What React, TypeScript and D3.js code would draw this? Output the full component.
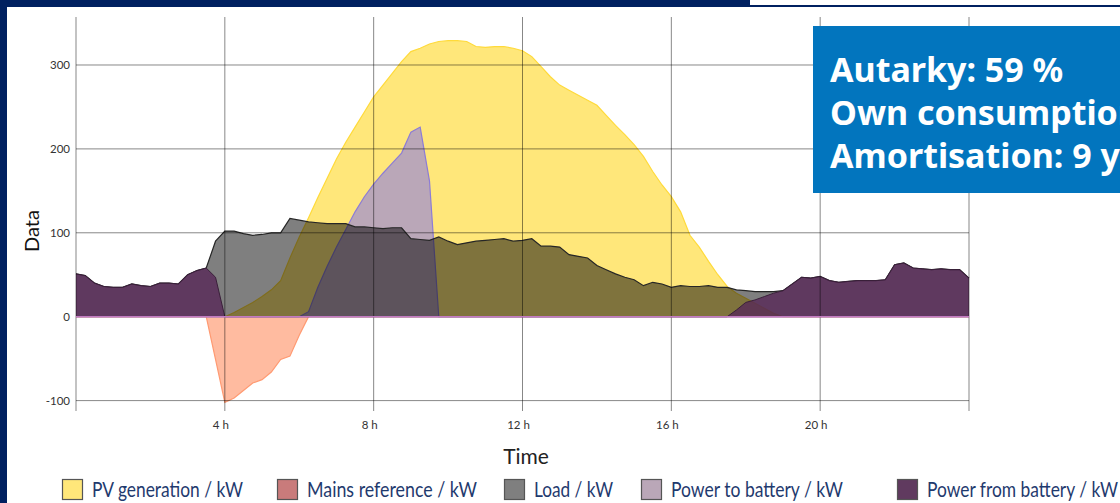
import React from "react";
import * as d3 from "d3";

const hours: number[] = d3.range(0, 97).map((i) => i / 4);

const pvGeneration: number[] = [
  0, 0, 0, 0, 0, 0, 0, 0, 0, 0, 0, 0, 0, 0, 0, 0,
  0, 5, 11, 17, 24, 32, 43, 70, 95, 118, 142, 165, 188, 208, 226, 244,
  262, 276, 290, 304, 316, 320, 325, 328, 329, 329, 328, 322, 321, 322, 322, 320,
  317, 310, 298, 286, 276, 270, 264, 258, 252, 240, 228, 217, 205, 191, 173, 157,
  143, 125, 97, 83, 66, 50, 36, 28, 22, 16, 10, 4, 0, 0, 0, 0,
  0, 0, 0, 0, 0, 0, 0, 0, 0, 0, 0, 0, 0, 0, 0, 0, 0,
];

const mainsReference: number[] = [
  0, 0, 0, 0, 0, 0, 0, 0, 0, 0, 0, 0, 0, 0, 0, -51,
  -102, -97, -88, -79, -75, -66, -51, -47, -22, 0, 0, 0, 0, 0, 0, 0,
  0, 0, 0, 0, 0, 0, 0, 0, 0, 0, 0, 0, 0, 0, 0, 0,
  0, 0, 0, 0, 0, 0, 0, 0, 0, 0, 0, 0, 0, 0, 0, 0,
  0, 0, 0, 0, 0, 0, 0, 0, 0, 0, 0, 0, 0, 0, 0, 0,
  0, 0, 0, 0, 0, 0, 0, 0, 0, 0, 0, 0, 0, 0, 0, 0, 0,
];

const load: number[] = [
  51, 49, 40, 36, 35, 35, 39, 37, 36, 40, 40, 39, 50, 55, 58, 90,
  102, 102, 99, 97, 98, 100, 100, 117, 115, 113, 112, 111, 111, 111, 107, 107,
  106, 105, 106, 106, 93, 92, 91, 95, 90, 86, 88, 90, 91, 92, 93, 90,
  91, 93, 84, 84, 83, 74, 72, 70, 61, 56, 51, 47, 44, 37, 41, 39,
  35, 37, 36, 36, 37, 35, 35, 32, 31, 30, 30, 30, 31, 39, 47, 46,
  48, 43, 41, 42, 43, 43, 43, 44, 62, 64, 58, 57, 56, 57, 56, 56, 46,
];

const powerToBattery: number[] = [
  0, 0, 0, 0, 0, 0, 0, 0, 0, 0, 0, 0, 0, 0, 0, 0,
  0, 0, 0, 0, 0, 0, 0, 0, 0, 6, 35, 60, 83, 104, 125, 143,
  158, 171, 183, 195, 220, 226, 162, 0, 0, 0, 0, 0, 0, 0, 0, 0,
  0, 0, 0, 0, 0, 0, 0, 0, 0, 0, 0, 0, 0, 0, 0, 0,
  0, 0, 0, 0, 0, 0, 0, 0, 0, 0, 0, 0, 0, 0, 0, 0,
  0, 0, 0, 0, 0, 0, 0, 0, 0, 0, 0, 0, 0, 0, 0, 0, 0,
];

const powerFromBattery: number[] = [
  51, 49, 40, 36, 35, 35, 39, 37, 36, 40, 40, 39, 50, 55, 58, 47,
  0, 0, 0, 0, 0, 0, 0, 0, 0, 0, 0, 0, 0, 0, 0, 0,
  0, 0, 0, 0, 0, 0, 0, 0, 0, 0, 0, 0, 0, 0, 0, 0,
  0, 0, 0, 0, 0, 0, 0, 0, 0, 0, 0, 0, 0, 0, 0, 0,
  0, 0, 0, 0, 0, 0, 0, 8, 17, 20, 24, 28, 31, 39, 47, 46,
  48, 43, 41, 42, 43, 43, 43, 44, 62, 64, 58, 57, 56, 57, 56, 56, 46,
];

const xTicks: number[] = [4, 8, 12, 16, 20];
const xGrid: number[] = [0, 4, 8, 12, 16, 20, 24];
const yTicks: number[] = [-100, 0, 100, 200, 300];

const legendItems = [
  { label: "PV generation / kW", fill: "#FFE77A", x: 62, w: 151 },
  { label: "Mains reference / kW", fill: "#C97B7B", x: 277, w: 170 },
  { label: "Load / kW", fill: "#7F7F7F", x: 504, w: 79 },
  { label: "Power to battery / kW", fill: "#BAA7B8", x: 641, w: 172 },
  { label: "Power from battery / kW", fill: "#603A5F", x: 897, w: 191 },
];

const statLines: string[] = ["Autarky: 59 %", "Own consumption", "Amortisation: 9 years"];

export default function App() {
  const W = 1120;
  const H = 503;
  const x = d3.scaleLinear().domain([0, 24]).range([76, 969]);
  const y = d3.scaleLinear().domain([-112.4, 357.2]).range([411, 17]);

  const mk = (vals: number[]) => {
    const pts = hours.map((h, i) => [h, vals[i]] as [number, number]);
    const area = d3
      .area<[number, number]>()
      .x((d) => x(d[0]))
      .y0(y(0))
      .y1((d) => y(d[1]))(pts) as string;
    const line = d3
      .line<[number, number]>()
      .x((d) => x(d[0]))
      .y((d) => y(d[1]))(pts) as string;
    return { area, line };
  };

  const pv = mk(pvGeneration);
  const mains = mk(mainsReference);
  const toB = mk(powerToBattery);
  const ld = mk(load);
  const fromB = mk(powerFromBattery);

  const font = "Lato, 'Open Sans', sans-serif";

  return (
    <svg
      width={W}
      height={H}
      style={{ position: "absolute", left: 0, top: 0, display: "block" }}
      xmlns="http://www.w3.org/2000/svg"
    >
      <rect x={0} y={0} width={W} height={H} fill="#ffffff" />
      {/* frame */}
      <rect x={0} y={0} width={750} height={7} fill="#002060" />
      <rect x={750} y={5} width={W - 750} height={2} fill="#002060" />
      <rect x={0} y={0} width={7} height={H} fill="#002060" />

      {/* series */}
      <path d={pv.area} fill="#FFE77A" />
      <path d={pv.line} fill="none" stroke="#FFDA3A" strokeWidth={1.2} />
      <path d={mains.area} fill="#FFBBA0" />
      <path d={mains.line} fill="none" stroke="#FF9A72" strokeWidth={1.2} />
      <path d={toB.area} fill="#BAA7B8" />
      <path d={toB.line} fill="none" stroke="#8C7CD6" strokeWidth={1.2} />
      <path d={ld.area} fill="rgba(0,0,0,0.5)" />
      <path d={ld.line} fill="none" stroke="#262626" strokeWidth={1.2} />
      <path d={fromB.area} fill="rgba(87,40,87,0.8)" />
      <path d={fromB.line} fill="none" stroke="#3a1f3a" strokeWidth={1} />

      {/* grid on top, semi transparent */}
      {yTicks.map((t) => (
        <line
          key={"hy" + t}
          x1={x(0)}
          x2={x(24)}
          y1={y(t)}
          y2={y(t)}
          stroke="rgba(0,0,0,0.47)"
          strokeWidth={1}
        />
      ))}
      {xGrid.map((t) => (
        <line
          key={"gx" + t}
          x1={x(t)}
          x2={x(t)}
          y1={17}
          y2={411}
          stroke="rgba(0,0,0,0.47)"
          strokeWidth={1}
        />
      ))}
      <line x1={x(0)} x2={x(24)} y1={y(0)} y2={y(0)} stroke="#C27AC2" strokeWidth={1.5} />

      {/* y tick labels */}
      {yTicks.map((t) => (
        <text
          key={"yl" + t}
          x={70}
          y={y(t) + 4}
          textAnchor="end"
          fontSize={11.5}
          fill="#333"
          fontFamily={font}
        >
          {t}
        </text>
      ))}
      {/* x tick labels */}
      {xTicks.map((t) => (
        <text
          key={"xl" + t}
          x={x(t) - 4}
          y={429}
          textAnchor="middle"
          fontSize={11.5}
          fill="#333"
          fontFamily={font}
        >
          {t + " h"}
        </text>
      ))}

      <text x={526} y={464} textAnchor="middle" fontSize={21} fill="#222" fontFamily={font}>
        Time
      </text>
      <text
        transform="translate(39,231) rotate(-90)"
        textAnchor="middle"
        fontSize={20}
        fill="#111"
        fontFamily={font}
      >
        Data
      </text>

      {/* legend */}
      {legendItems.map((it) => (
        <g key={it.label}>
          <rect
            x={it.x + 0.5}
            y={479.5}
            width={20}
            height={20}
            fill={it.fill}
            stroke="#555"
            strokeWidth={1.2}
          />
          <text
            x={it.x + 30}
            y={497}
            fontSize={21}
            fill="#1F3A6E"
            fontFamily={font}
            textLength={it.w}
            lengthAdjust="spacingAndGlyphs"
          >
            {it.label}
          </text>
        </g>
      ))}

      {/* annotation box */}
      <rect x={813} y={26} width={W - 813} height={167} fill="#0275BE" />
      {statLines.map((s, i) => (
        <text
          key={s}
          x={830}
          y={82 + i * 43}
          fontSize={34}
          fontWeight={700}
          fill="#ffffff"
          fontFamily="'Noto Sans', 'Open Sans', sans-serif"
        >
          {s}
        </text>
      ))}
    </svg>
  );
}
